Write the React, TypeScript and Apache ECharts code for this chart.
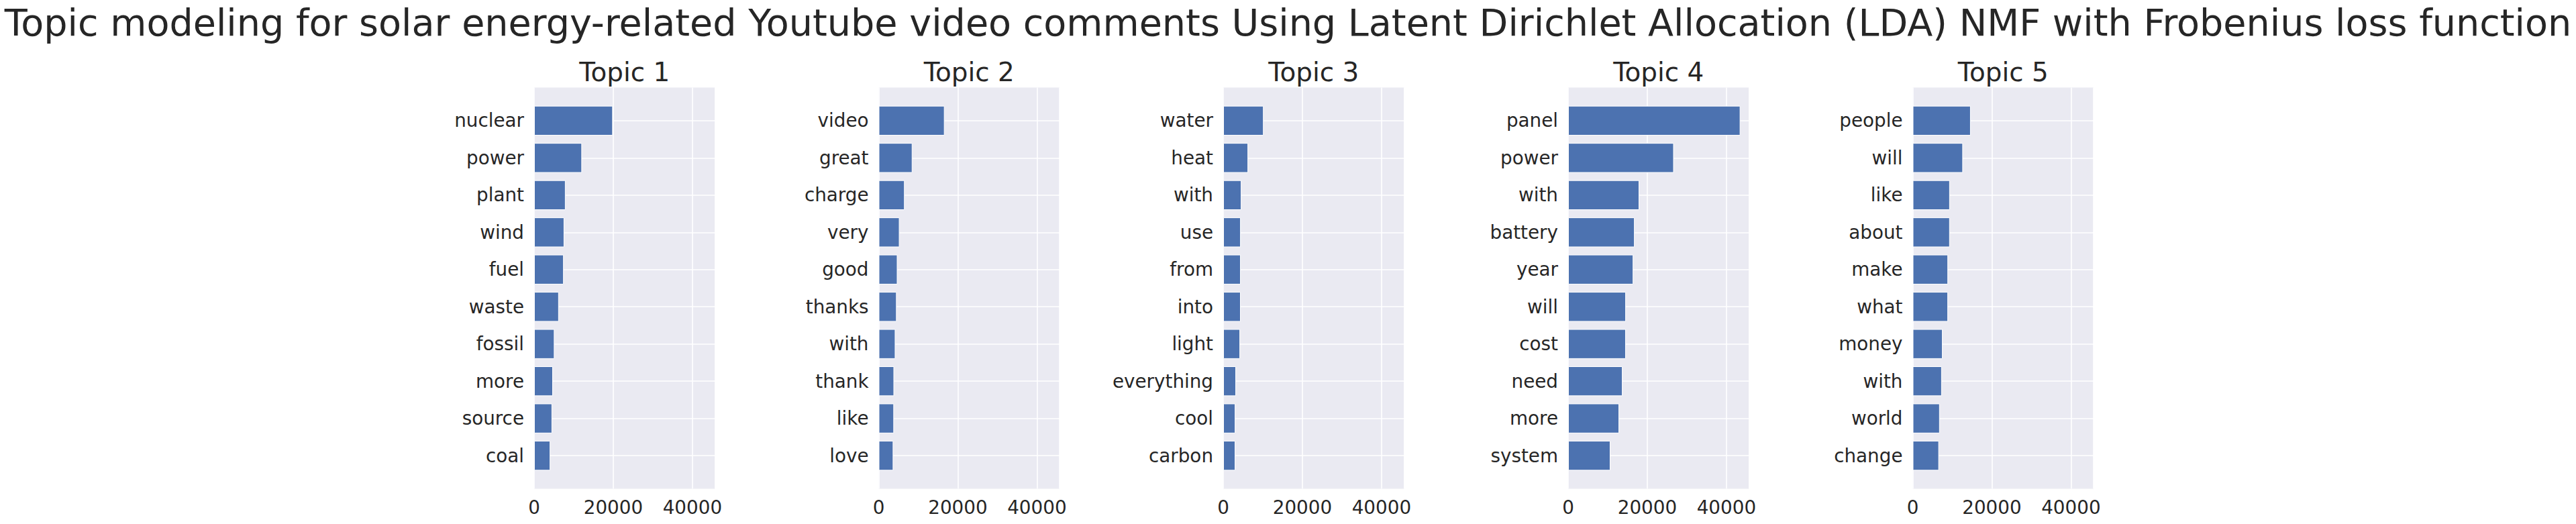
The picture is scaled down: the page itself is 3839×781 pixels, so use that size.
import React, { useEffect, useRef } from "react";
import * as echarts from "echarts";

const mainTitle =
  "Topic modeling for solar energy-related Youtube video comments Using Latent Dirichlet Allocation (LDA) NMF with Frobenius loss function";

const topicTitles = ["Topic 1", "Topic 2", "Topic 3", "Topic 4", "Topic 5"];

const topic1Words = ["nuclear", "power", "plant", "wind", "fuel", "waste", "fossil", "more", "source", "coal"];
const topic1Values = [19900, 12100, 7950, 7620, 7490, 6250, 5150, 4750, 4560, 4100];

const topic2Words = ["video", "great", "charge", "very", "good", "thanks", "with", "thank", "like", "love"];
const topic2Values = [16650, 8520, 6570, 5270, 4750, 4550, 4230, 3900, 3870, 3710];

const topic3Words = ["water", "heat", "with", "use", "from", "into", "light", "everything", "cool", "carbon"];
const topic3Values = [10210, 6300, 4600, 4430, 4420, 4410, 4260, 3230, 3070, 3060];

const topic4Words = ["panel", "power", "with", "battery", "year", "will", "cost", "need", "more", "system"];
const topic4Values = [43520, 26710, 17980, 16810, 16480, 14600, 14580, 13750, 12900, 10680];

const topic5Words = ["people", "will", "like", "about", "make", "what", "money", "with", "world", "change"];
const topic5Values = [14660, 12700, 9390, 9380, 8940, 8930, 7560, 7360, 6840, 6640];

const xTickStep = 20000;
const xMax = 45700;

const allWords = [topic1Words, topic2Words, topic3Words, topic4Words, topic5Words];
const allValues = [topic1Values, topic2Values, topic3Values, topic4Values, topic5Values];

const FONT = "DejaVu Sans";
const TEXT = "#262626";

export default function App() {
  const ref = useRef<HTMLDivElement>(null);

  useEffect(() => {
    if (!ref.current) return;
    const chart = echarts.init(ref.current, undefined, { renderer: "svg" });

    const panelLefts = [796, 1309.5, 1823, 2337, 2850.5];
    const plotW = 269.5;
    const plotTop = 130.5;
    const plotH = 598;
    const unit = plotH / 10.78;
    const inset = 0.39 * unit;

    const grids: any[] = [];
    const xAxes: any[] = [];
    const yAxes: any[] = [];
    const series: any[] = [];
    const titles: any[] = [
      {
        text: mainTitle,
        left: "center",
        top: 5,
        padding: 0,
        textStyle: { fontFamily: FONT, fontSize: 55.6, fontWeight: "normal", color: TEXT },
      },
    ];

    panelLefts.forEach((L, i) => {
      // background grid (gray area + vertical grid lines + x labels)
      grids.push({
        left: L,
        top: plotTop,
        width: plotW,
        height: plotH,
        show: true,
        backgroundColor: "#EAEAF2",
        borderWidth: 0,
        containLabel: false,
        outerBoundsMode: "none",
      });
      // data grid (bars + horizontal grid lines + y labels)
      grids.push({
        left: L,
        top: plotTop + inset,
        width: plotW,
        height: plotH - 2 * inset,
        show: false,
        containLabel: false,
        outerBoundsMode: "none",
      });

      xAxes.push({
        gridIndex: 2 * i,
        type: "value",
        min: 0,
        max: xMax,
        interval: xTickStep,
        axisLine: { show: false },
        axisTick: { show: false },
        splitLine: { show: true, lineStyle: { color: "#ffffff", width: 1.6 } },
        axisLabel: {
          show: true,
          margin: 14,
          fontFamily: FONT,
          fontSize: 27.8,
          color: TEXT,
          showMaxLabel: false,
          formatter: (v: number) => (v % xTickStep === 0 ? String(v) : ""),
        },
      });
      xAxes.push({
        gridIndex: 2 * i + 1,
        type: "value",
        min: 0,
        max: xMax,
        show: false,
      });

      yAxes.push({
        gridIndex: 2 * i,
        type: "value",
        min: 0,
        max: 1,
        show: false,
      });
      yAxes.push({
        gridIndex: 2 * i + 1,
        type: "category",
        inverse: true,
        data: allWords[i],
        axisLine: { show: false },
        axisTick: { show: false, alignWithLabel: true },
        splitLine: {
          show: true,
          alignWithLabel: true,
          interval: 0,
          lineStyle: { color: "#ffffff", width: 1.6 },
        },
        axisLabel: {
          interval: 0,
          margin: 15,
          fontFamily: FONT,
          fontSize: 27.8,
          color: TEXT,
        },
      });

      series.push({
        type: "bar",
        xAxisIndex: 2 * i + 1,
        yAxisIndex: 2 * i + 1,
        data: allValues[i],
        barWidth: "80%",
        itemStyle: { color: "#4C72B0", borderColor: "#ffffff", borderWidth: 1 },
        emphasis: { disabled: true },
      });

      titles.push({
        text: topicTitles[i],
        left: L + plotW / 2,
        textAlign: "center",
        top: 88,
        padding: 0,
        textStyle: { fontFamily: FONT, fontSize: 38.9, fontWeight: "normal", color: TEXT },
      });
    });

    chart.setOption({
      animation: false,
      backgroundColor: "#ffffff",
      title: titles,
      grid: grids,
      xAxis: xAxes,
      yAxis: yAxes,
      series,
    });

    return () => chart.dispose();
  }, []);

  return (
    <div
      ref={ref}
      style={{ position: "fixed", left: 0, top: 0, width: 3839, height: 781 }}
    />
  );
}
